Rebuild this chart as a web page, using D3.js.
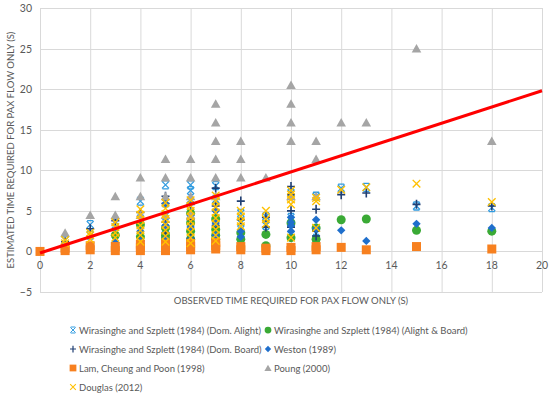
<!DOCTYPE html>
<html>
<head>
<meta charset="utf-8">
<script src="https://cdn.jsdelivr.net/npm/d3@7"></script>
<style>
  body { margin: 0; background: #fff; }
  text { font-family: Lato, "Open Sans", sans-serif; fill: #595959; }
</style>
</head>
<body>
<svg width="550" height="397"></svg>
<script>
// observed (x) vs estimated (y) time, one array of [x, y] per study
var domAlight = [[1,1.4],[2,3.3],[2,2.0],[3,3.7],[3,2.5],[4,6.2],[4,4.0],[4,2.6],[4,1.5],
  [5,8.2],[5,6.0],[5,4.4],[5,2.8],[6,8.2],[6,7.5],[6,5.6],[6,4.0],[6,2.2],[6,1.3],
  [7,8.1],[7,6.4],[7,4.6],[7,3.0],[7,1.6],[8,4.7],[8,3.5],[9,4.3],[9,3.2],
  [10,7.2],[10,4.2],[10,3.8],[10,2.8],[11,6.8],[11,2.2],[11,1.6],[12,7.8],[13,7.9],[15,5.6],[18,5.4]];
var alightBoard = [[3,2.0],[4,3.3],[4,1.8],[5,2.9],[5,2.0],[5,1.6],[6,4.7],[6,3.5],[6,2.5],[6,1.5],
  [7,4.0],[7,2.7],[7,2.0],[7,1.5],[8,2.3],[8,1.5],[9,2.1],[9,0.7],[10,3.5],[10,1.7],
  [11,2.9],[11,1.5],[12,3.9],[13,4.0],[15,2.6],[18,2.5]];
var domBoard = [[1,1.2],[2,2.8],[3,3.8],[4,4.8],[4,1.3],[5,6.8],[5,5.9],[5,3.6],[5,2.3],
  [6,5.8],[6,3.9],[6,1.6],[7,7.8],[7,5.6],[7,3.2],[8,6.2],[8,3.9],[9,4.2],[9,3.0],
  [10,8.0],[10,7.0],[10,5.0],[10,3.0],[11,5.2],[11,2.5],[11,1.9],[12,7.0],[13,7.2],[15,5.8],[18,5.6]];
var weston = [[3,1.1],[4,2.5],[4,1.3],[5,5.9],[5,3.2],[5,1.6],[6,6.0],[6,4.5],[6,3.0],[6,1.5],
  [7,5.0],[7,3.5],[7,2.0],[8,2.5],[8,1.8],[10,4.2],[10,3.6],[10,3.2],[10,2.5],
  [11,3.9],[11,2.8],[12,2.6],[13,1.3],[15,3.4],[18,2.9]];
var lam = [[0,0],[1,0.1],[1,0.4],[2,0.2],[2,0.7],[3,0.1],[3,0.6],[4,0.1],[4,0.5],[4,0.9],
  [5,0.1],[5,0.5],[5,0.9],[6,0.2],[6,0.6],[6,1.0],[7,0.3],[7,0.7],[7,1.1],[8,0.2],[8,0.6],
  [9,0.1],[9,0.4],[10,0.1],[10,0.5],[11,0.2],[11,0.6],[12,0.5],[13,0.2],[15,0.6],[18,0.3]];
var poung = [[1,2.3],[2,4.5],[3,4.5],[3,6.8],[4,4.5],[4,6.8],[4,9.1],[5,4.5],[5,6.8],[5,9.1],[5,11.4],
  [6,4.5],[6,6.8],[6,9.1],[6,11.4],[7,6.8],[7,9.1],[7,11.4],[7,13.6],[7,15.9],[7,18.2],
  [8,9.1],[8,11.4],[8,13.6],[9,9.1],[10,6.8],[10,13.6],[10,15.9],[10,18.2],[10,20.5],
  [11,6.8],[11,11.4],[11,13.6],[12,15.9],[13,15.9],[15,25],[18,13.6]];
var douglas = [[1,1.0],[1,1.4],[2,1.5],[2,2.0],[2,2.3],[3,1.7],[3,2.3],[3,3.0],[3,3.6],
  [4,1.2],[4,2.0],[4,2.6],[4,3.2],[4,3.9],[4,4.5],[4,5.2],
  [5,1.2],[5,1.9],[5,2.6],[5,3.3],[5,4.0],[5,4.6],[5,5.3],[5,6.0],
  [6,1.0],[6,1.7],[6,2.4],[6,3.1],[6,3.7],[6,4.3],[6,5.0],[6,5.6],[6,6.3],
  [7,1.3],[7,2.0],[7,2.7],[7,3.4],[7,4.1],[7,4.8],[7,5.5],[7,6.2],[7,6.9],
  [8,3.1],[8,3.7],[8,4.3],[8,5.0],[9,3.4],[9,4.0],[9,5.0],
  [10,1.7],[10,5.8],[10,6.4],[10,7.0],[10,7.5],[11,2.9],[11,6.2],[11,6.6],
  [12,7.6],[13,7.9],[15,8.35],[18,6.1]];
var fitX = [0, 20];
var fitY = [-0.2, 19.8];

var xTicks = [0, 2, 4, 6, 8, 10, 12, 14, 16, 18, 20];
var yTicks = [-5, 0, 5, 10, 15, 20, 25, 30];

var series = [
  {name: "Wirasinghe and Szplett (1984) (Dom. Alight)", data: domAlight, shape: "star", color: "#2f9be0"},
  {name: "Wirasinghe and Szplett (1984) (Alight & Board)", data: alightBoard, shape: "circle", color: "#3aaa35"},
  {name: "Wirasinghe and Szplett (1984) (Dom. Board)", data: domBoard, shape: "plus", color: "#203f73"},
  {name: "Weston (1989)", data: weston, shape: "diamond", color: "#1f6fcc"},
  {name: "Lam, Cheung and Poon (1998)", data: lam, shape: "square", color: "#f7801f"},
  {name: "Poung (2000)", data: poung, shape: "triangle", color: "#a5a5a5"},
  {name: "Douglas (2012)", data: douglas, shape: "cross", color: "#ffc000"}
];

var svg = d3.select("svg");

var x = d3.scaleLinear().domain([0, 20]).range([40, 542]);
var y = d3.scaleLinear().domain([-5, 30]).range([292, 8]);

// grid
var grid = svg.append("g").attr("stroke", "#d9d9d9").attr("stroke-width", 1);
grid.selectAll(".gx").data(xTicks).enter().append("line")
  .attr("x1", d => x(d) + 0.5).attr("x2", d => x(d) + 0.5)
  .attr("y1", y(30)).attr("y2", y(-5));
grid.selectAll(".gy").data(yTicks).enter().append("line")
  .attr("y1", d => Math.round(y(d)) + 0.5).attr("y2", d => Math.round(y(d)) + 0.5)
  .attr("x1", x(0)).attr("x2", x(20));

// tick labels
svg.append("g").selectAll("text").data(yTicks).enter().append("text")
  .attr("x", 32).attr("y", d => y(d) + 4)
  .attr("text-anchor", "end").attr("font-size", 10.5)
  .text(d => d < 0 ? "\u2212" + Math.abs(d) : d);
svg.append("g").selectAll("text").data(xTicks).enter().append("text")
  .attr("x", d => x(d)).attr("y", y(0) + 18)
  .attr("text-anchor", "middle").attr("font-size", 10.5)
  .text(d => d);

// axis titles
svg.append("text").attr("x", 291).attr("y", 304).attr("text-anchor", "middle")
  .attr("font-size", 9.5).text("OBSERVED TIME REQUIRED FOR PAX FLOW ONLY (S)");
svg.append("text").attr("transform", "translate(14,150) rotate(-90)").attr("text-anchor", "middle")
  .attr("font-size", 9.5).text("ESTIMATED TIME REQUIRED FOR PAX FLOW ONLY (S)");

function marker(g, shape, color) {
  if (shape === "circle") {
    g.append("circle").attr("r", 4.5).attr("fill", color);
  } else if (shape === "square") {
    g.append("rect").attr("x", -4.5).attr("y", -4.5).attr("width", 9).attr("height", 9).attr("fill", color);
  } else if (shape === "triangle") {
    g.append("path").attr("d", "M0,-4.5L4.8,4L-4.8,4Z").attr("fill", color);
  } else if (shape === "diamond") {
    g.append("path").attr("d", "M0,-4.2L4.2,0L0,4.2L-4.2,0Z").attr("fill", color);
  } else if (shape === "plus") {
    g.append("path").attr("d", "M-4,0H4M0,-4.5V4.5").attr("stroke", color).attr("stroke-width", 1.6);
  } else if (shape === "cross") {
    g.append("path").attr("d", "M-3.8,-3.8L3.8,3.8M-3.8,3.8L3.8,-3.8").attr("stroke", color).attr("stroke-width", 1.4);
  } else if (shape === "star") {
    g.append("path").attr("d", "M-3.5,-3.5L3.5,3.5M-3.5,3.5L3.5,-3.5M-3,-4H3M-3,4H3")
      .attr("stroke", color).attr("stroke-width", 1.3);
  }
}

// points
series.forEach(function(s) {
  var g = svg.append("g");
  g.selectAll("g").data(s.data).enter().append("g")
    .attr("transform", d => "translate(" + x(d[0]) + "," + y(d[1]) + ")")
    .each(function() { marker(d3.select(this), s.shape, s.color); });
});

// fitted line
var line = d3.line().x(d => x(d[0])).y(d => y(d[1]));
svg.append("path").datum(d3.zip(fitX, fitY)).attr("d", line)
  .attr("stroke", "#ff0000").attr("stroke-width", 3).attr("fill", "none");

// legend
var legend = svg.append("g");
series.forEach(function(s, i) {
  var col = i % 2, row = Math.floor(i / 2);
  var lx = col === 0 ? 73 : 268, ly = 330 + row * 19;
  var g = legend.append("g").attr("transform", "translate(" + lx + "," + ly + ")");
  var m = g.append("g").attr("transform", "scale(0.75)");
  marker(m, s.shape, s.color);
  g.append("text").attr("x", 6).attr("y", 3.5).attr("font-size", 9.5).text(s.name);
});
</script>
</body>
</html>
